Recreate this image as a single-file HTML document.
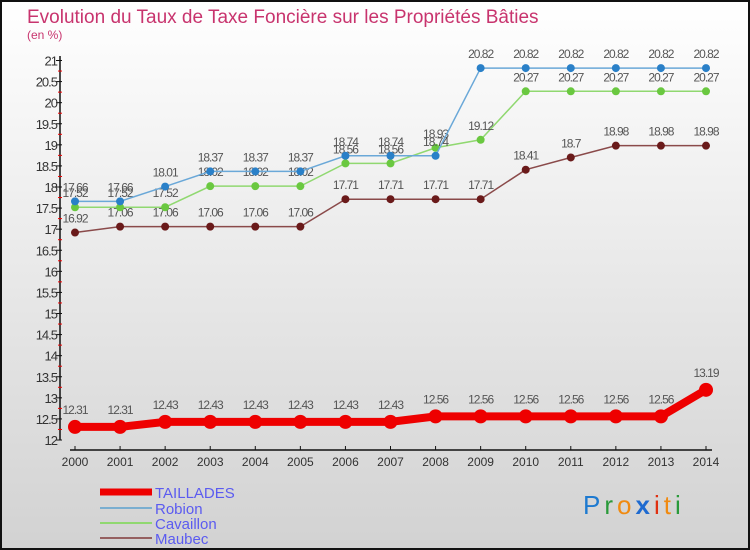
<!DOCTYPE html>
<html><head><meta charset="utf-8"><style>
body{margin:0}
#wrap{width:750px;height:550px;position:relative;overflow:hidden;font-family:"Liberation Sans",sans-serif}
svg text{font-family:"Liberation Sans",sans-serif}
</style></head><body>
<div id="wrap">
<svg id="c" width="750" height="550">
<defs><linearGradient id="bg" x1="0" y1="0" x2="0" y2="1"><stop offset="0" stop-color="#ffffff"/><stop offset="1" stop-color="#d2d2d2"/></linearGradient></defs>
<rect x="1" y="1" width="748" height="548" fill="url(#bg)" stroke="#111" stroke-width="2"/>
<text x="27" y="23" font-size="19" fill="#c8346e">Evolution du Taux de Taxe Foncière sur les Propriétés Bâties</text>
<text x="27" y="39" font-size="12" fill="#c8346e">(en %)</text>
<g id="axes"></g><g id="series"></g>
<g>
<line x1="100" y1="492" x2="152" y2="492" stroke="#e00" stroke-width="7"/>
<text x="155" y="498" font-size="15" fill="#5b5bf0">TAILLADES</text>
<line x1="100" y1="508" x2="152" y2="508" stroke="#7aaed0" stroke-width="2"/>
<text x="155" y="514" font-size="15" fill="#5b5bf0">Robion</text>
<line x1="100" y1="523" x2="152" y2="523" stroke="#90d870" stroke-width="2"/>
<text x="155" y="529" font-size="15" fill="#5b5bf0">Cavaillon</text>
<line x1="100" y1="538" x2="152" y2="538" stroke="#956060" stroke-width="2"/>
<text x="155" y="544" font-size="15" fill="#5b5bf0">Maubec</text>
</g>
<text x="583" y="514" font-size="26" letter-spacing="4"><tspan fill="#1e7ad0">P</tspan><tspan fill="#2a9a3a">r</tspan><tspan fill="#f08a10">o</tspan><tspan fill="#1e6ad0" font-weight="bold">x</tspan><tspan fill="#e03010">i</tspan><tspan fill="#f08a10">t</tspan><tspan fill="#2a9a3a">i</tspan></text>
</svg></div>
<script>
const years=[2000,2001,2002,2003,2004,2005,2006,2007,2008,2009,2010,2011,2012,2013,2014];
const taillades=[12.31,12.31,12.43,12.43,12.43,12.43,12.43,12.43,12.56,12.56,12.56,12.56,12.56,12.56,13.19];
const robion=[17.66,17.66,18.01,18.37,18.37,18.37,18.74,18.74,18.74,20.82,20.82,20.82,20.82,20.82,20.82];
const cavaillon=[17.52,17.52,17.52,18.02,18.02,18.02,18.56,18.56,18.93,19.12,20.27,20.27,20.27,20.27,20.27];
const maubec=[16.92,17.06,17.06,17.06,17.06,17.06,17.71,17.71,17.71,17.71,18.41,18.7,18.98,18.98,18.98];
const yTicks=[12,12.5,13,13.5,14,14.5,15,15.5,16,16.5,17,17.5,18,18.5,19,19.5,20,20.5,21];
const NS='http://www.w3.org/2000/svg';
const x=i=>75+i*(706-75)/(years.length-1);
const y=v=>440-(v-12)*(440-60.5)/9;
function mk(tag,attrs,parent){const e=document.createElementNS(NS,tag);for(const k in attrs)e.setAttribute(k,attrs[k]);parent.appendChild(e);return e;}
const ax=document.getElementById('axes');
let e=mk('line',{x1:60,y1:56,x2:60,y2:440,stroke:'#111','stroke-width':1.5},ax);


e=mk('line',{x1:70,y1:450,x2:712,y2:450,stroke:'#111','stroke-width':1.5},ax);


yTicks.forEach(t=>{
  const yy=y(t);
  mk('line',{x1:56,y1:yy,x2:62,y2:yy,stroke:'#111'},ax);
  if(t<21)mk('line',{x1:58,y1:y(t+0.25),x2:62,y2:y(t+0.25),stroke:'#e00'},ax);
  const tx=mk('text',{x:57,y:yy+5,'font-size':13,'text-anchor':'end',fill:'#333','letter-spacing':'-1'},ax);
  tx.textContent=String(t);
  
  
});
years.forEach((yr,i)=>{
  mk('line',{x1:x(i),y1:446,x2:x(i),y2:450,stroke:'#111'},ax);
  const tx=mk('text',{x:x(i),y:466,'font-size':12,'text-anchor':'middle',fill:'#333'},ax);
  tx.textContent=yr;
  
  
});
const sg=document.getElementById('series');
function draw(name,vals,color,dot,w,r,off){
  const g=mk('g',{},sg);
  
  
  const pts=vals.map((v,i)=>x(i)+','+y(v)).join(' ');
  mk('polyline',{points:pts,fill:'none',stroke:color,'stroke-width':w},g);
  vals.forEach((v,i)=>{
    const c=mk('circle',{cx:x(i),cy:y(v),r:r,fill:dot},g);
    
    
    const t=mk('text',{x:x(i),y:y(v)-off,'font-size':12,'text-anchor':'middle',fill:'#555','letter-spacing':'-1'},g);
    t.textContent=String(v);
    
    
  });
}
draw('maubec',maubec,'#8a4a4a','#6a1a1a',1.5,4,10);
draw('cavaillon',cavaillon,'#90d870','#6ac840',1.5,4,10);
draw('robion',robion,'#6aa8d8','#2a80c8',1.5,4,10);
draw('taillades',taillades,'#ee0000','#ee0000',8,7,13);
</script>
</body></html>
